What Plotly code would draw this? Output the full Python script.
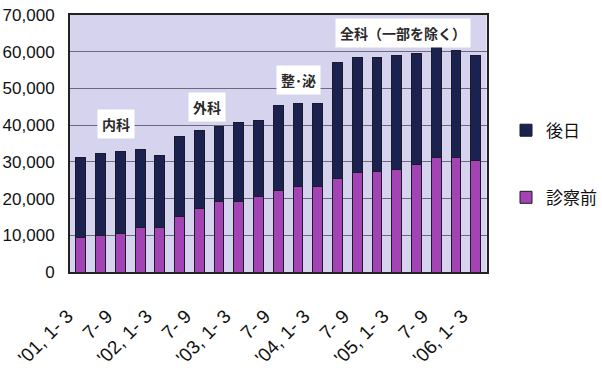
import plotly.graph_objects as go

# Quarterly periods, 2001 Q1 (Jan-Mar) through 2006 Q1
quarters = [
    "'01, 1- 3", "'01, 4- 6", "'01, 7- 9", "'01, 10-12",
    "'02, 1- 3", "'02, 4- 6", "'02, 7- 9", "'02, 10-12",
    "'03, 1- 3", "'03, 4- 6", "'03, 7- 9", "'03, 10-12",
    "'04, 1- 3", "'04, 4- 6", "'04, 7- 9", "'04, 10-12",
    "'05, 1- 3", "'05, 4- 6", "'05, 7- 9", "'05, 10-12",
    "'06, 1- 3",
]
tick_labels = ["'01, 1- 3", "7- 9", "'02, 1- 3", "7- 9", "'03, 1- 3", "7- 9",
               "'04, 1- 3", "7- 9", "'05, 1- 3", "7- 9", "'06, 1- 3"]

# Counts before consultation (bottom segment)
before_exam = [9400, 10000, 10500, 12100, 12100, 15200, 17300, 19200, 19200, 20600,
               22300, 23200, 23400, 25400, 27000, 27400, 27900, 29200, 31200, 31200,
               30300]
# Totals (top of each stacked bar)
totals = [31200, 32200, 32700, 33300, 31600, 36900, 38500, 39500, 40600, 41200,
          45400, 45900, 45900, 57000, 58500, 58500, 59100, 59500, 61200, 60300,
          59100]
later = [t - b for t, b in zip(totals, before_exam)]

# Department phase labels: (text, bar index position, value)
phases = [("内科", 1.8, 40300), ("外科", 6.4, 44900), ("整･泌", 11.0, 52300),
          ("全科（一部を除く）", 16.3, 65100)]

x_idx = list(range(len(quarters)))

fig = go.Figure()
fig.add_trace(go.Bar(x=x_idx, y=before_exam, name="診察前", legendgroup="a",
                     legendrank=2,
                     marker=dict(color="#a443b4", line=dict(color="#1a1a2a", width=1)),
                     width=0.5))
fig.add_trace(go.Bar(x=x_idx, y=later, name="後日", legendgroup="b",
                     legendrank=1,
                     marker=dict(color="#1c2250", line=dict(color="#1a1a2a", width=1)),
                     width=0.5))

for text, xp, yp in phases:
    fig.add_annotation(x=xp, y=yp, text=f"<b>{text}</b>", showarrow=False,
                       bgcolor="white", borderpad=4,
                       font=dict(size=14, color="#2a2a2a", family="Noto Sans CJK JP"))

# a trailing em space pulls the rotated labels down-left of their ticks
pad = "\u2003"

fig.update_layout(
    width=602, height=371,
    margin=dict(l=70, r=0, t=15, b=99),
    paper_bgcolor="white",
    plot_bgcolor="#d6d3ef",
    barmode="stack",
    font=dict(family="Liberation Sans, Arial, sans-serif", color="#111"),
    legend=dict(x=0.85, y=0.62, xanchor="left", yanchor="top",
                traceorder="grouped", tracegroupgap=42, itemwidth=30,
                font=dict(size=17, family="Noto Sans CJK JP", color="#111"),
                bgcolor="rgba(0,0,0,0)"),
    showlegend=True,
)
fig.update_xaxes(
    domain=[0, 432 / 532],
    range=[-0.55, len(quarters) - 0.45],
    tickmode="array", tickvals=x_idx[::2], ticktext=[t + pad for t in tick_labels],
    tickangle=-45, tickfont=dict(size=19), ticklabelstandoff=10,
    showline=True, linecolor="#222", linewidth=2, mirror=True,
    showgrid=False, ticks="",
)
fig.update_yaxes(
    range=[0, 70000], tickvals=list(range(0, 70001, 10000)),
    tickformat=",d", tickfont=dict(size=17),
    showgrid=True, gridcolor="#6a6a7a", gridwidth=1,
    showline=True, linecolor="#222", linewidth=2, mirror=True,
    zeroline=False, ticks="", ticklabelstandoff=10,
)

fig.write_html("out.html")
